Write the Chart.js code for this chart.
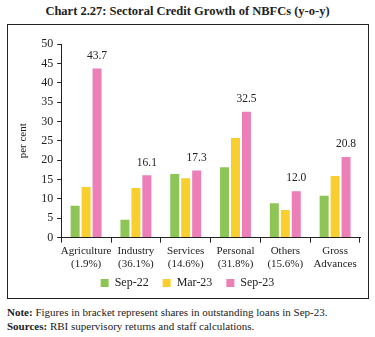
<!DOCTYPE html>
<html>
<head>
<meta charset="utf-8">
<script src="https://cdn.jsdelivr.net/npm/chart.js@4/dist/chart.umd.min.js"></script>
<style>
  body { margin: 0; width: 375px; height: 337px; background: #fff; font-family: "Liberation Serif", serif; position: relative; }
  #title { position: absolute; top: 4px; left: 0; width: 375px; text-align: center; font-weight: bold; font-size: 12.5px; color: #222; }
  #box { position: absolute; left: 7px; top: 24px; width: 360px; height: 273px; border: 1px solid #222; }
  #myChart { position: absolute; left: 0; top: 0; }
  #notes { position: absolute; left: 7px; top: 305px; font-size: 11px; color: #222; line-height: 14px; }
</style>
</head>
<body>
<div id="title">Chart 2.27: Sectoral Credit Growth of NBFCs (y-o-y)</div>
<div id="box"><canvas id="myChart" width="360" height="276"></canvas></div>
<div id="notes"><b>Note:</b> Figures in bracket represent shares in outstanding loans in Sep-23.<br><b>Sources:</b> RBI supervisory returns and staff calculations.</div>
<script>
const categories = [["Agriculture", "(1.9%)"], ["Industry", "(36.1%)"], ["Services", "(14.6%)"], ["Personal", "(31.8%)"], ["Others", "(15.6%)"], ["Gross", "Advances"]];
const sep22 = [8.2, 4.6, 16.4, 18.2, 8.9, 10.8];
const mar23 = [13.1, 12.8, 15.3, 25.7, 7.1, 15.9];
const sep23 = [43.7, 16.1, 17.3, 32.5, 12.0, 20.8];

const labelPlugin = {
  id: "barLabels",
  afterDatasetsDraw(c) {
    const ctx = c.ctx;
    const meta = c.getDatasetMeta(2);
    ctx.save();
    ctx.font = "11.5px 'Liberation Serif'";
    ctx.fillStyle = "#222";
    ctx.textAlign = "center";
    ctx.textBaseline = "bottom";
    meta.data.forEach((bar, i) => {
      ctx.fillText(sep23[i].toFixed(1), bar.x, bar.y - 7);
    });
    ctx.restore();
  }
};

const chart = document.querySelector("#myChart").getContext('2d');

new Chart(chart, {
  type: "bar",
  data: {
    labels: categories,
    datasets: [
      { label: "Sep-22", data: sep22, backgroundColor: "#8dc657" },
      { label: "Mar-23", data: mar23, backgroundColor: "#f9ce2f" },
      { label: "Sep-23", data: sep23, backgroundColor: "#ec7fb8" }
    ]
  },
  options: {
    responsive: false,
    animation: false,
    layout: { padding: { left: 7, right: 8, top: 19, bottom: 2 } },
    categoryPercentage: 0.66,
    barPercentage: 0.82,
    plugins: {
      legend: {
        position: "bottom",
        labels: {
          boxWidth: 8, boxHeight: 8, padding: 14,
          font: { family: "Liberation Serif", size: 12 }, color: "#222"
        }
      },
      tooltip: { enabled: false }
    },
    scales: {
      x: {
        // squeeze the axis box so the legend sits close; let labels spill over
        afterFit(scale) { scale.height -= 10; scale._computeLabelArea = () => null; },
        grid: { display: true, drawOnChartArea: false, color: "#222", tickLength: 5, offset: true },
        border: { color: "#222" },
        ticks: { font: { family: "Liberation Serif", size: 11 }, color: "#222", maxRotation: 0, autoSkip: false, padding: 2 }
      },
      y: {
        min: 0, max: 50,
        ticks: { stepSize: 5, autoSkip: false, font: { family: "Liberation Serif", size: 12 }, color: "#222", padding: 4 },
        grid: { display: true, drawOnChartArea: false, color: "#222", tickLength: 4 },
        border: { color: "#222" },
        title: { display: true, text: "per cent", font: { family: "Liberation Serif", size: 11 }, color: "#222", padding: { top: 2, bottom: 7 } }
      }
    }
  },
  plugins: [labelPlugin]
});
</script>
</body>
</html>
